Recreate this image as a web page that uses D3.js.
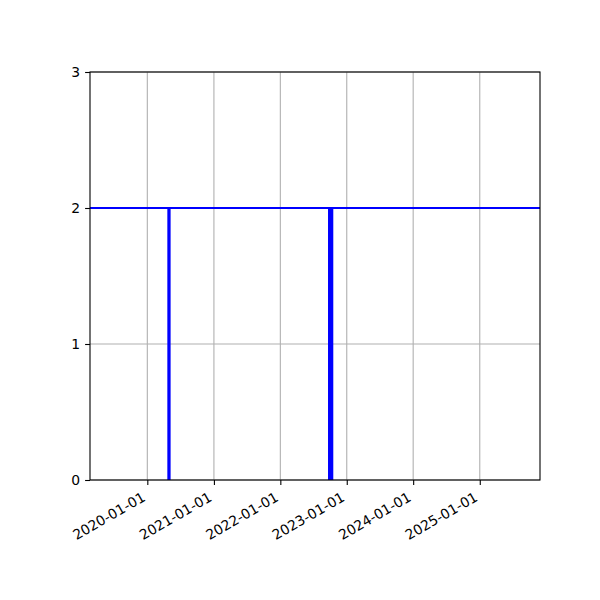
<!DOCTYPE html>
<html>
<head>
<meta charset="utf-8">
<script src="https://cdn.jsdelivr.net/npm/d3@7"></script>
<style>
  body { margin: 0; background: #fff; }
  svg { font-family: "DejaVu Sans", sans-serif; }
</style>
</head>
<body>
<svg id="chart" width="600" height="600"></svg>
<script>
// level line and the two spans where the value falls to 0
const level = 2;
const spanStart = ["2020-04-20", "2022-09-20"];
const spanEnd = ["2020-05-08", "2022-10-19"];
const spanValue = [2, 2];
const xTicks = ["2020-01-01", "2021-01-01", "2022-01-01", "2023-01-01", "2024-01-01", "2025-01-01"];
const yTicks = [0, 1, 2, 3];
const xDomain = ["2019-02-20", "2025-11-28"];

const width = 600, height = 600;
const margin = {top: 72, right: 60, bottom: 120, left: 90};
const parse = d3.utcParse("%Y-%m-%d");

const spans = spanStart.map((d, i) => ({start: parse(d), end: parse(spanEnd[i]), value: spanValue[i]}));

const x = d3.scaleUtc()
    .domain(xDomain.map(parse))
    .range([margin.left, width - margin.right]);

const y = d3.scaleLinear()
    .domain([0, 3])
    .range([height - margin.bottom, margin.top]);

const svg = d3.select("#chart");

// grid
const grid = svg.append("g").attr("stroke", "#b0b0b0").attr("stroke-width", 1.1);
grid.selectAll("line.vx")
  .data(xTicks.map(parse))
  .join("line")
    .attr("x1", d => x(d)).attr("x2", d => x(d))
    .attr("y1", margin.top).attr("y2", height - margin.bottom);
grid.selectAll("line.hy")
  .data(yTicks)
  .join("line")
    .attr("x1", margin.left).attr("x2", width - margin.right)
    .attr("y1", d => y(d)).attr("y2", d => y(d));

// spans
svg.append("g")
    .attr("fill", "#0000ff")
  .selectAll("rect")
  .data(spans)
  .join("rect")
    .attr("x", d => x(d.start))
    .attr("width", d => x(d.end) - x(d.start))
    .attr("y", d => y(d.value))
    .attr("height", d => y(0) - y(d.value));

// level line across the axes
svg.append("line")
    .attr("x1", margin.left).attr("x2", width - margin.right)
    .attr("y1", y(level)).attr("y2", y(level))
    .attr("stroke", "#0000ff")
    .attr("stroke-width", 2.1);

// axes
const xAxis = g => g
    .attr("transform", `translate(0,${height - margin.bottom})`)
    .call(d3.axisBottom(x).tickValues(xTicks.map(parse)).tickSize(4.9).tickPadding(4.9)
      .tickFormat(d3.utcFormat("%Y-%m-%d")))
    .attr("font-family", null)
    .attr("font-size", 13.9)
    .call(g => g.select(".domain").remove())
    .call(g => g.selectAll(".tick line").attr("stroke", "#000").attr("stroke-width", 1.1))
    .call(g => g.selectAll(".tick text")
      .attr("fill", "#000")
      .attr("text-anchor", "end")
      .attr("dy", null)
      .attr("y", null)
      .attr("transform", "translate(-1.5,20) rotate(-30)"));

const yAxis = g => g
    .attr("transform", `translate(${margin.left},0)`)
    .call(d3.axisLeft(y).tickValues(yTicks).tickSize(4.9).tickPadding(4.9).tickFormat(d3.format("d")))
    .attr("font-family", null)
    .attr("font-size", 13.9)
    .call(g => g.select(".domain").remove())
    .call(g => g.selectAll(".tick line").attr("stroke", "#000").attr("stroke-width", 1.1))
    .call(g => g.selectAll(".tick text").attr("fill", "#000"));

svg.append("g").call(xAxis);
svg.append("g").call(yAxis);

// frame
svg.append("rect")
    .attr("x", margin.left).attr("y", margin.top)
    .attr("width", width - margin.left - margin.right)
    .attr("height", height - margin.top - margin.bottom)
    .attr("fill", "none")
    .attr("stroke", "#000")
    .attr("stroke-width", 1.1);
</script>
</body>
</html>
